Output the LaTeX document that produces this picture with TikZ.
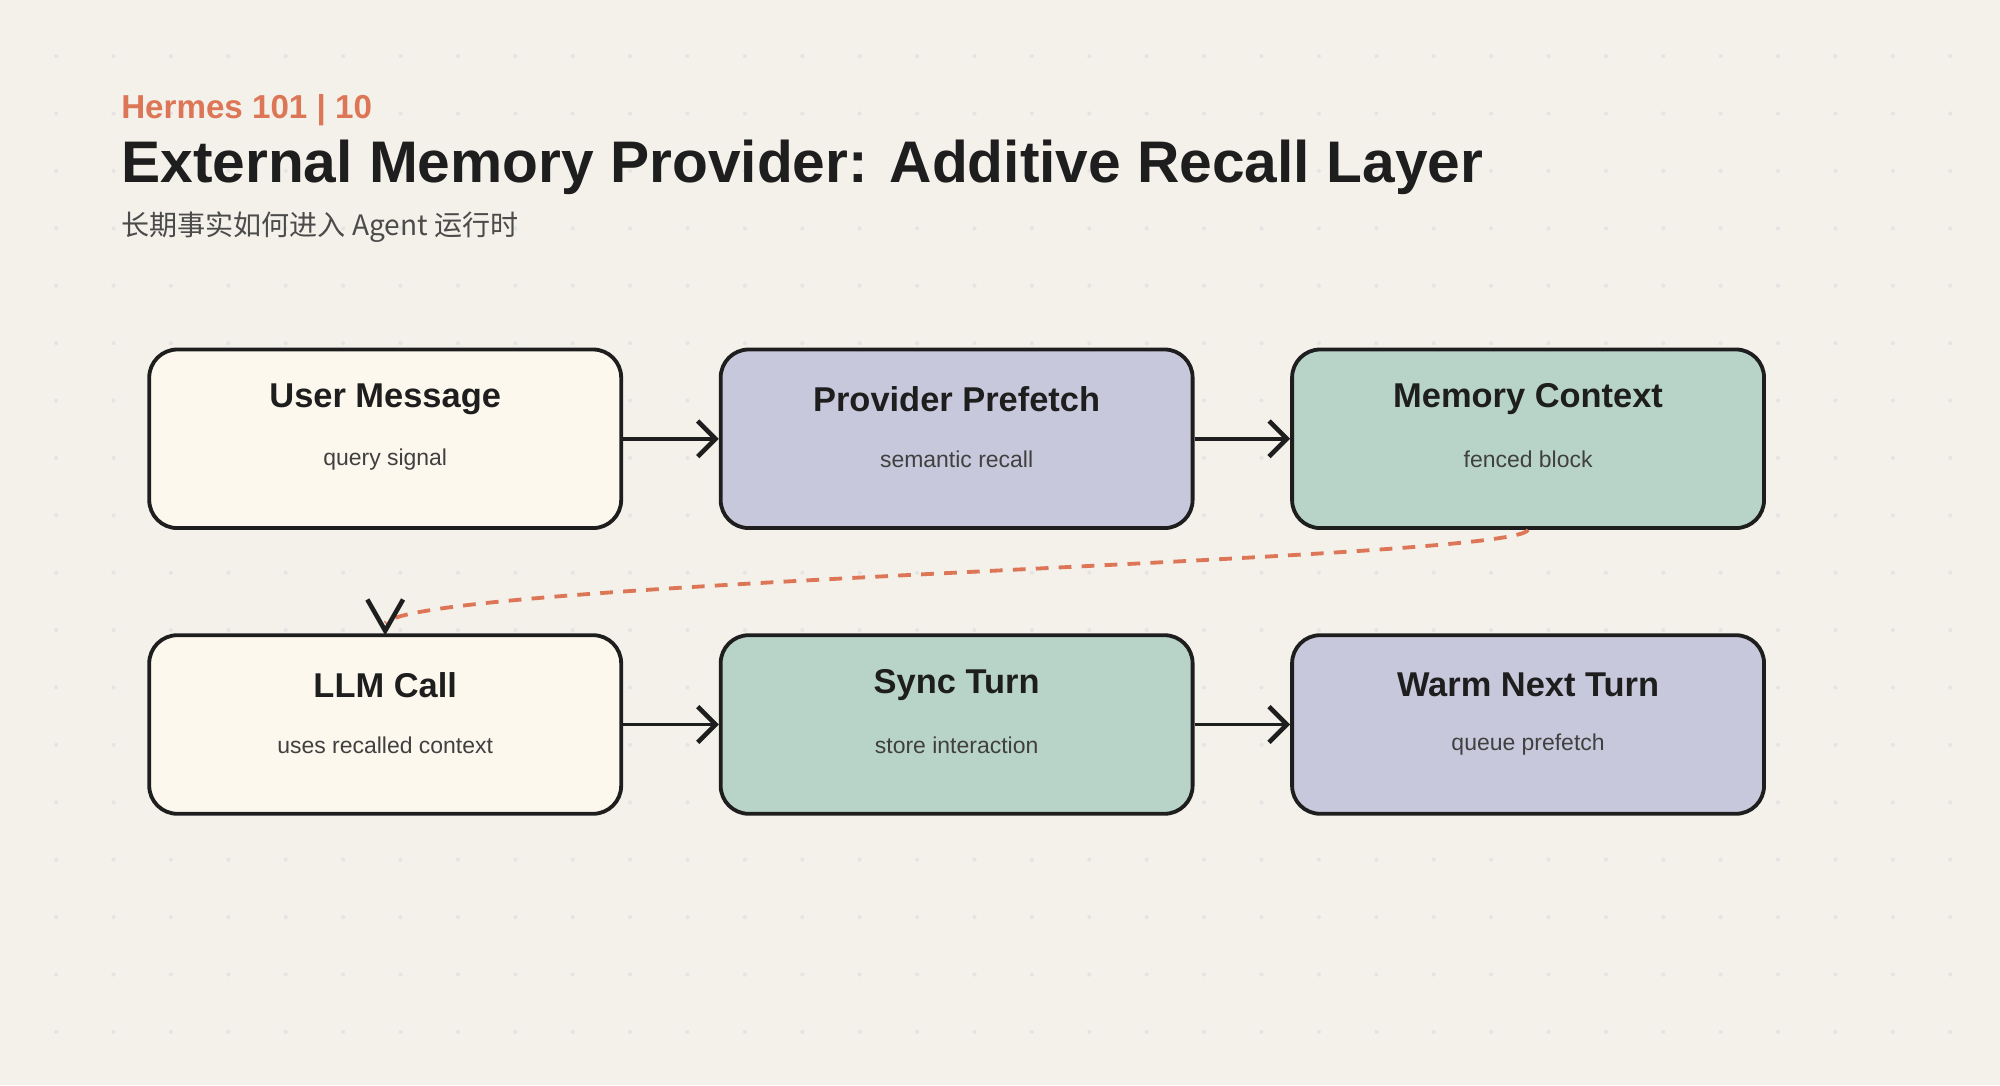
\documentclass[tikz,border=0pt]{standalone}
\usepackage{fontspec}
\setmainfont{Liberation Sans}
\newfontfamily\cjk{Noto Sans CJK SC}
\usetikzlibrary{positioning,arrows.meta}
\definecolor{paper}{HTML}{F4F1EA}
\definecolor{cream}{HTML}{FDF8EE}
\definecolor{lav}{HTML}{C8C8DC}
\definecolor{sage}{HTML}{B8D4C8}
\definecolor{ink}{HTML}{1E1E1E}
\definecolor{rust}{HTML}{DC7656}
\tikzset{stage/.style = {rounded corners=11pt, draw=ink, line width=1.5pt, minimum width=185pt, minimum height=70pt, inner sep=0pt},
         ttl/.style = {font=\bfseries\fontsize{13.5}{16}\selectfont, text=ink},
         sub/.style = {font=\fontsize{9}{11}\selectfont, text=ink!85},
         flow/.style = {line width=1.5pt, draw=ink, -{Straight Barb[length=7pt,width=14pt,line width=1.8pt]}}}
\begin{document}
\begin{tikzpicture}[x=0.5pt, y=-0.5pt]
    \fill[paper] (0,0) rectangle (1568,851);
    \useasboundingbox (0,0) rectangle (1568,851);
    \foreach \i in {0,...,33} \foreach \j in {0,...,17}
        \fill[ink!12] (44+45*\i, 44+45*\j) circle (0.8pt);
    % header
    \node[anchor=west, text=rust, font=\bfseries\fontsize{13}{15}\selectfont] (kicker) at (88,86) {Hermes 101 | 10};
    \node[anchor=west, text=ink, font=\bfseries\fontsize{23}{27}\selectfont] (title) at (88,131) {External Memory Provider: Additive Recall Layer};
    \node[anchor=west, text=ink!80, font=\fontsize{11}{13}\selectfont] (subtitle) at (88,178) {\cjk 长期事实如何进入 Agent 运行时};
    % stages
    \node[stage, fill=cream] (user) at (302,344) {};
    \node[stage, fill=lav]   (pref) at (750,344) {};
    \node[stage, fill=sage]  (mem)  at (1198,344) {};
    \node[stage, fill=cream] (llm)  at (302,568) {};
    \node[stage, fill=sage]  (sync) at (750,568) {};
    \node[stage, fill=lav]   (warm) at (1198,568) {};
    \foreach \n/\t/\s in {user/User Message/query signal, pref/Provider Prefetch/semantic recall,
        mem/Memory Context/fenced block, llm/LLM Call/uses recalled context,
        sync/Sync Turn/store interaction, warm/Warm Next Turn/queue prefetch} {
        \node[ttl] at ([yshift=15.5pt]\n.center) {\t};
        \node[sub] at ([yshift=-8pt]\n.center) {\s};
    }
    % connectors
    \draw[flow] (user) -- (pref);
    \draw[flow] (pref) -- (mem);
    \draw[flow] (llm) -- (sync);
    \draw[flow] (sync) -- (warm);
    \draw[rust, line width=1.5pt, dash pattern=on 5pt off 4pt] (mem.south) .. controls (1185,440) and (330,455) .. ([yshift=4pt]llm.north);
    \draw[ink, line width=1.8pt] (288,470) -- ([yshift=1pt]llm.north) -- (316,470);
\end{tikzpicture}
\end{document}
